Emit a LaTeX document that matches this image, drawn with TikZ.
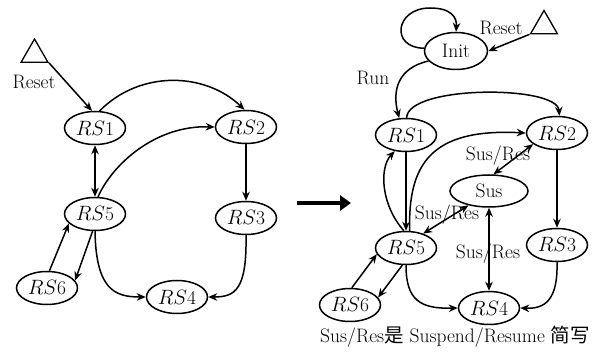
\documentclass[tikz,border=0pt]{standalone}
\usepackage{fontspec}
\newfontfamily\cjk{Noto Sans CJK SC}
\usetikzlibrary{shapes.geometric,arrows.meta}
\begin{document}
\begin{tikzpicture}[x=1pt,y=-1pt,
  every node/.style={font=\fontsize{19.5}{22}\selectfont},
  st/.style={draw,ellipse,line width=1.5pt,inner sep=0pt,minimum width=61pt,minimum height=33pt},
  tri/.style={draw,regular polygon,regular polygon sides=3,line width=1.3pt,inner sep=0pt,minimum size=31pt},
  lbl/.style={inner sep=0pt},
  ar/.style={line width=1.5pt,-{Stealth[length=9pt,width=7.5pt]}},
  dar/.style={line width=1.5pt,{Stealth[length=9pt,width=7.5pt]}-{Stealth[length=9pt,width=7.5pt]}}]
\useasboundingbox (0,0) rectangle (603,352);
% ---------- left diagram ----------
\node[tri] (t1) at (34.5,54.5) {};
\node[lbl] (r1) at (34,82) {Reset};
\node[st] (a1) at (95,128) {$RS$1};
\node[st] (a2) at (246,127) {$RS$2};
\node[st] (a5) at (95,214) {$RS$5};
\node[st] (a3) at (246,218) {$RS$3};
\node[st] (a6) at (47,288) {$RS$6};
\node[st] (a4) at (177,297) {$RS$4};
\draw[ar] (t1.corner 3) -- (a1.100);
\draw[ar] (a1.75) .. controls (140,70) and (205,72) .. (a2.95);
\draw[dar] (a1.south) -- (a5.north);
\draw[ar] (a5.80) .. controls (112,165) and (155,125) .. (a2.west);
\draw[ar] (a2.south) -- (a3.north);
\draw[ar] (a6.82) -- (a5.200);
\draw[ar] (a5.262) -- (a6.15);
\draw[ar] (a5.south) .. controls (96,290) and (115,297) .. (a4.west);
\draw[ar] (a3.south) .. controls (247,290) and (235,297) .. (a4.east);
% ---------- big arrow ----------
\coordinate (b0) at (297,203);
\coordinate (b1) at (351,203);
\draw[line width=4.5pt,-{Triangle[length=11pt,width=15pt]}] (b0) -- (b1);
% ---------- right diagram ----------
\node[st,minimum width=63pt,minimum height=37pt] (in) at (456,51) {Init};
\node[tri] (t2) at (544,26) {};
\node[lbl] (r2) at (501,28) {Reset};
\node[st] (b1n) at (406,135) {$RS$1};
\node[st] (b2) at (557,133) {$RS$2};
\node[st,minimum width=78pt,minimum height=32pt] (sus) at (489,191) {Sus};
\node[st] (b5) at (406,248) {$RS$5};
\node[st] (b3) at (557,245) {$RS$3};
\node[st] (b6) at (350,305) {$RS$6};
\node[st] (b4) at (489,308) {$RS$4};
\draw[ar] (in.175) .. controls (390,48) and (395,8) .. (430,8) .. controls (452,8) and (457,18) .. (in.north);
\draw[ar] (t2.corner 2) -- (in.east);
\draw[ar] (in.200) .. controls (398,68) and (392,90) .. (b1n.112);
\node[lbl] (run) at (373,78) {Run};
\draw[ar] (b1n.88) .. controls (408,85) and (557,85) .. (b2.82);
\draw[ar] (b1n.south) -- (b5.north);
\draw[ar] (b5.97) .. controls (381,205) and (379,168) .. (b1n.235);
\draw[ar] (b5.78) .. controls (408,165) and (430,128) .. (b2.west);
\draw[dar] (b2.205) -- (sus.75);
\node[lbl] (l1) at (498,156) {Sus/Res};
\draw[dar] (b5.40) -- (sus.215);
\node[lbl] (l2) at (447,215) {Sus/Res};
\draw[dar] (sus.south) -- (b4.north);
\node[lbl] (l3) at (488,254) {Sus/Res};
\draw[ar] (b2.south) -- (b3.north);
\draw[ar] (b5.258) -- (b6.15);
\draw[ar] (b6.84) -- (b5.192);
\draw[ar] (b5.south) .. controls (406,300) and (420,309) .. (b4.west);
\draw[ar] (b3.south) .. controls (558,300) and (545,309) .. (b4.east);
\node[lbl] (cap) at (455,337) {Sus/Res{\cjk 是} Suspend/Resume {\cjk 简写}};
\end{tikzpicture}
\end{document}
